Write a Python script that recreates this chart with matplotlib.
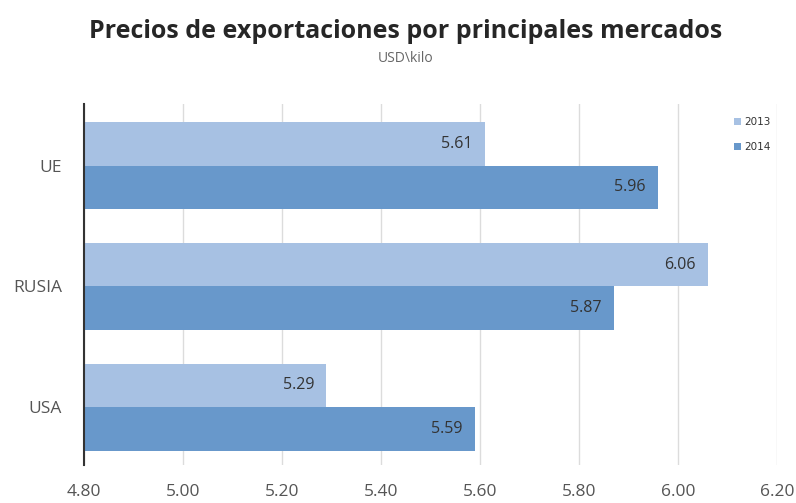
import matplotlib
matplotlib.use("Agg")
import matplotlib.pyplot as plt
import numpy as np

categories = ["UE", "RUSIA", "USA"]
series_names = ["2013", "2014"]
values_2013 = [5.61, 6.06, 5.29]
values_2014 = [5.96, 5.87, 5.59]
xticks = [4.80, 5.00, 5.20, 5.40, 5.60, 5.80, 6.00, 6.20]

c2013 = "#a7c1e3"
c2014 = "#6898cb"

fig = plt.figure(figsize=(7.96, 5.03), dpi=100)
ax = fig.add_axes([0.1055, 0.0755, 0.8705, 0.7177])

y = np.arange(len(categories))
h = 0.36
base = 4.80
b1 = ax.barh(y - h/2, np.array(values_2013) - base, left=base, height=h, color=c2013, label=series_names[0], zorder=2)
b2 = ax.barh(y + h/2, np.array(values_2014) - base, left=base, height=h, color=c2014, label=series_names[1], zorder=2)

for bars, vals in ((b1, values_2013), (b2, values_2014)):
    for rect, v in zip(bars, vals):
        ax.text(v - 0.025, rect.get_y() + rect.get_height()/2, f"{v:.2f}",
                ha="right", va="center", fontsize=11.5, color="#333333", zorder=3,
                family="Open Sans")

ax.set_xlim(4.80, 6.20)
ax.set_ylim(2.48, -0.51)
ax.set_yticks(y)
ax.set_yticklabels(categories, fontsize=12.5, color="#555555", family="Open Sans")
ax.set_xticks(xticks)
ax.set_xticklabels([f"{t:.2f}" for t in xticks], fontsize=12.5, color="#555555", family="Open Sans")
ax.tick_params(axis="both", length=0)
ax.tick_params(axis="x", pad=14)
ax.tick_params(axis="y", pad=16)
ax.grid(axis="x", color="#dcdcdc", linewidth=1, zorder=0)
for s in ("top", "right", "bottom"):
    ax.spines[s].set_visible(False)
ax.spines["left"].set_color("#333333")
ax.spines["left"].set_linewidth(1.5)
ax.spines["left"].set_zorder(4)

leg = ax.legend(loc="upper right", bbox_to_anchor=(1.0, 0.98), frameon=False,
                fontsize=7.5, handlelength=0.7, handleheight=0.7, handletextpad=0.3,
                labelspacing=1.4, borderaxespad=0.2)
for t in leg.get_texts():
    t.set_color("#333333")

fig.text(0.51, 0.938, "Precios de exportaciones por principales mercados",
         ha="center", va="center", fontsize=18, fontweight="bold", color="#262626",
         family="Open Sans")
fig.text(0.51, 0.884, "USD\\kilo", ha="center", va="center", fontsize=10,
         color="#666666", family="Open Sans")

fig.savefig("out.png", dpi=100)
